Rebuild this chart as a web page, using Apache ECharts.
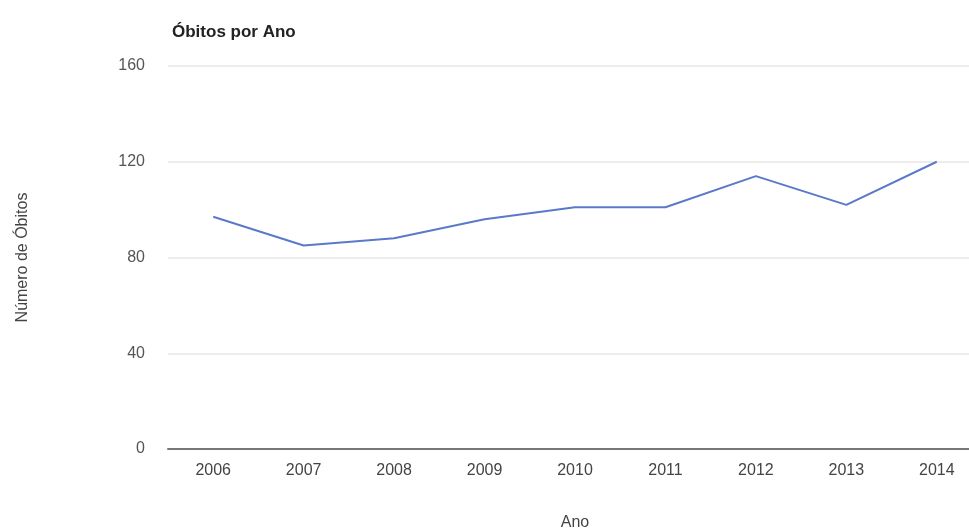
<!DOCTYPE html>
<html>
<head>
<meta charset="utf-8">
<script src="https://cdn.jsdelivr.net/npm/echarts@6/dist/echarts.min.js"></script>
<style>
  html, body { margin: 0; padding: 0; background: #fff; }
  #chart { width: 969px; height: 532px; }
</style>
</head>
<body>
<div id="chart"></div>
<script>
// Dados do gráfico
const anos = ['2006', '2007', '2008', '2009', '2010', '2011', '2012', '2013', '2014'];
const obitos = [97, 85, 88, 96, 101, 101, 114, 102, 120];

const chart = echarts.init(document.getElementById('chart'));

const option = {
    animation: false,
    textStyle: { fontFamily: 'Liberation Sans, Arial, sans-serif' },
    title: {
        text: 'Óbitos por Ano',
        left: 167,
        top: 19,
        textStyle: { fontSize: 17, fontWeight: 'bold', color: '#222' }
    },
    // a grade passa da borda direita, como na imagem original
    grid: { left: 168, top: 66, width: 814, height: 383, outerBoundsMode: 'none' },
    xAxis: {
        type: 'category',
        data: anos,
        name: 'Ano',
        nameLocation: 'middle',
        nameGap: 66,
        nameTextStyle: { fontSize: 16, color: '#444' },
        axisTick: { show: false },
        axisLine: { lineStyle: { color: '#777', width: 2 } },
        axisLabel: { fontSize: 16, color: '#444', margin: 14 }
    },
    yAxis: {
        type: 'value',
        min: 0,
        max: 160,
        interval: 40,
        name: 'Número de Óbitos',
        nameLocation: 'middle',
        nameGap: 137,
        nameTextStyle: { fontSize: 16, color: '#444' },
        axisLine: { show: false },
        axisTick: { show: false },
        axisLabel: { fontSize: 16, color: '#555', margin: 23 },
        splitLine: { lineStyle: { color: '#e6e6e6', width: 1.5 } }
    },
    series: [{
        name: 'Óbitos',
        type: 'line',
        data: obitos,
        symbol: 'none',
        lineStyle: { color: '#5b79c9', width: 2 }
    }]
};

chart.setOption(option);
</script>
</body>
</html>
